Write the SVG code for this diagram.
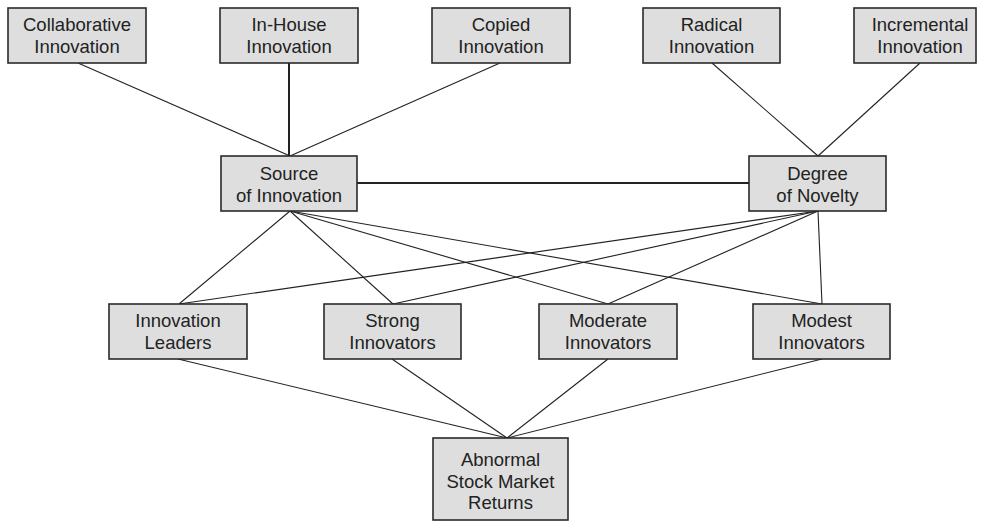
<svg xmlns="http://www.w3.org/2000/svg" width="981" height="521" viewBox="0 0 981 521">
<style>
.box rect{fill:#dedede;stroke:#2a2a2a;stroke-width:1.6}
.box text{font-family:"Liberation Sans",Arial,sans-serif;font-size:18.5px;fill:#222;text-anchor:middle}
.conn line{stroke:#222;stroke-width:1.1}
.conn line.thick{stroke-width:2}
</style>
<rect width="981" height="521" fill="#fff"/>
<g class="conn">
<line x1="78" y1="63" x2="290" y2="156"/>
<line class="thick" x1="289" y1="63" x2="289" y2="156"/>
<line x1="500" y1="63" x2="290" y2="156"/>
<line x1="712" y1="63" x2="818" y2="156"/>
<line x1="920" y1="63" x2="818" y2="156"/>
<line class="thick" x1="357" y1="183" x2="749" y2="183"/>
<line x1="290" y1="211" x2="179" y2="304"/>
<line x1="290" y1="211" x2="393" y2="304"/>
<line x1="290" y1="211" x2="608" y2="304"/>
<line x1="290" y1="211" x2="822" y2="304"/>
<line x1="818" y1="211" x2="179" y2="304"/>
<line x1="818" y1="211" x2="393" y2="304"/>
<line x1="818" y1="211" x2="608" y2="304"/>
<line x1="818" y1="211" x2="822" y2="304"/>
<line x1="178" y1="359" x2="507" y2="438"/>
<line x1="392" y1="359" x2="507" y2="438"/>
<line x1="608" y1="359" x2="507" y2="438"/>
<line x1="822" y1="359" x2="507" y2="438"/>
</g>
<g id="collaborative" class="box"><rect x="8" y="8" width="138" height="55"/><text x="77" y="31">Collaborative</text><text x="77" y="53">Innovation</text></g>
<g id="inhouse" class="box"><rect x="220" y="8" width="138" height="55"/><text x="289" y="31">In-House</text><text x="289" y="53">Innovation</text></g>
<g id="copied" class="box"><rect x="432" y="8" width="138" height="55"/><text x="501" y="31">Copied</text><text x="501" y="53">Innovation</text></g>
<g id="radical" class="box"><rect x="643" y="8" width="137" height="55"/><text x="711.5" y="31">Radical</text><text x="711.5" y="53">Innovation</text></g>
<g id="incremental" class="box"><rect x="854" y="8" width="122" height="55"/><text x="920" y="31">Incremental</text><text x="920" y="53">Innovation</text></g>
<g id="source" class="box"><rect x="221" y="156" width="136" height="55"/><text x="289" y="180">Source</text><text x="289" y="202">of Innovation</text></g>
<g id="degree" class="box"><rect x="749" y="156" width="137" height="55"/><text x="817.5" y="180">Degree</text><text x="817.5" y="202">of Novelty</text></g>
<g id="leaders" class="box"><rect x="109" y="304" width="138" height="55"/><text x="178" y="327">Innovation</text><text x="178" y="349">Leaders</text></g>
<g id="strong" class="box"><rect x="324" y="304" width="137" height="55"/><text x="392.5" y="327">Strong</text><text x="392.5" y="349">Innovators</text></g>
<g id="moderate" class="box"><rect x="539" y="304" width="138" height="55"/><text x="608" y="327">Moderate</text><text x="608" y="349">Innovators</text></g>
<g id="modest" class="box"><rect x="753" y="304" width="137" height="55"/><text x="821.5" y="327">Modest</text><text x="821.5" y="349">Innovators</text></g>
<g id="abnormal" class="box"><rect x="433" y="438" width="135" height="82"/><text x="500.5" y="466">Abnormal</text><text x="500.5" y="487.5">Stock Market</text><text x="500.5" y="509">Returns</text></g>
</svg>
